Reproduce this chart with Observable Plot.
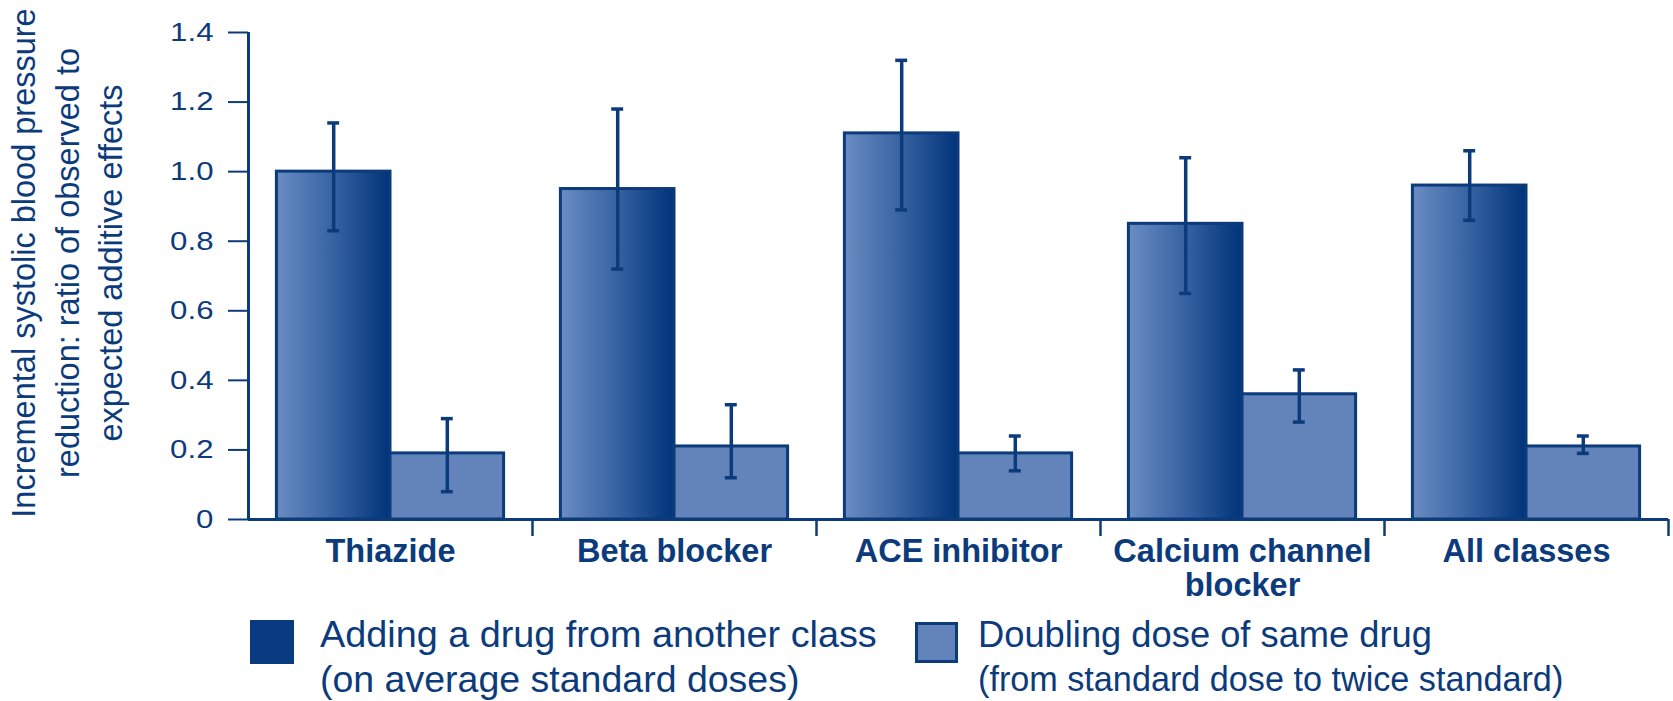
<!DOCTYPE html>
<html>
<head>
<meta charset="utf-8">
<script src="https://cdn.jsdelivr.net/npm/d3@7"></script>
<script src="https://cdn.jsdelivr.net/npm/@observablehq/plot@0.6"></script>
<style>
  body { margin: 0; background: #fff; font-family: "Liberation Sans", Arial, sans-serif; }
  #chart { position: relative; width: 1673px; height: 701px; overflow: hidden; background: #fff; }
  #legend { position: absolute; left: 0; top: 610px; width: 1673px; height: 91px; color: #0c3b7c; }
  .swatch { position: absolute; box-sizing: border-box; }
  .entry { position: absolute; white-space: pre; line-height: 45px; }
  .entry span { display: block; }
</style>
</head>
<body>
<div id="chart"></div>
<script>
// Drug classes along the x axis
const categories = ["Thiazide", "Beta blocker", "ACE inhibitor", "Calcium channel\nblocker", "All classes"];

// Adding a drug from another class: ratio and 95% interval
const addMean = [1.00, 0.95, 1.11, 0.85, 0.96];
const addLow  = [0.83, 0.72, 0.89, 0.65, 0.86];
const addHigh = [1.14, 1.18, 1.32, 1.04, 1.06];

// Doubling dose of the same drug: ratio and 95% interval
const dblMean = [0.19, 0.21, 0.19, 0.36, 0.21];
const dblLow  = [0.08, 0.12, 0.14, 0.28, 0.19];
const dblHigh = [0.29, 0.33, 0.24, 0.43, 0.24];

const yTicks = [0, 0.2, 0.4, 0.6, 0.8, 1.0, 1.2, 1.4];
const yTitle = "Incremental systolic blood pressure\nreduction: ratio of observed to\nexpected additive effects";
const seriesLabels = [
  ["Adding a drug from another class", "(on average standard doses)"],
  ["Doubling dose of same drug", "(from standard dose to twice standard)"]
];

const navy = "#0c3b7c";
const lightFill = "#6384bb";

// One row per bar; slot 0 = adding, slot 1 = doubling within each class
const rows = [];
categories.forEach((c, i) => {
  rows.push({cat: c, i, slot: 0, mean: addMean[i], lo: addLow[i], hi: addHigh[i]});
  rows.push({cat: c, i, slot: 1, mean: dblMean[i], lo: dblLow[i], hi: dblHigh[i]});
});
const left = d => d.i + 0.1 + d.slot * 0.4;
const right = d => left(d) + 0.4;
const mid = d => left(d) + 0.2;
const capHalf = 0.021;

// Horizontal shading used on the "adding" bars
const gradientDefs = () => {
  const defs = d3.create("svg:defs");
  const g = defs.append("linearGradient").attr("id", "addGrad")
    .attr("x1", 0).attr("x2", 1).attr("y1", 0).attr("y2", 0);
  g.append("stop").attr("offset", "0%").attr("stop-color", "#6a8cc2");
  g.append("stop").attr("offset", "45%").attr("stop-color", "#3c67a5");
  g.append("stop").attr("offset", "100%").attr("stop-color", "#00337a");
  return defs.node();
};

const chart = Plot.plot({
  width: 1673,
  height: 610,
  marginTop: 32,
  marginBottom: 91,
  marginLeft: 248,
  marginRight: 5,
  style: {fontFamily: "'Liberation Sans', Arial, sans-serif", color: navy, background: "white", overflow: "visible"},
  x: {domain: [0, categories.length]},
  y: {domain: [0, 1.4]},
  marks: [
    gradientDefs,
    Plot.rectY(rows.filter(d => d.slot === 0), {
      x1: left, x2: right, y1: 0, y2: d => d.mean,
      fill: "url(#addGrad)", stroke: navy, strokeWidth: 3
    }),
    Plot.rectY(rows.filter(d => d.slot === 1), {
      x1: left, x2: right, y1: 0, y2: d => d.mean,
      fill: lightFill, stroke: navy, strokeWidth: 3
    }),
    // error bars
    Plot.ruleX(rows, {x: mid, y1: d => d.lo, y2: d => d.hi, stroke: navy, strokeWidth: 3.5}),
    Plot.ruleY(rows, {y: d => d.hi, x1: d => mid(d) - capHalf, x2: d => mid(d) + capHalf, stroke: navy, strokeWidth: 3.5}),
    Plot.ruleY(rows, {y: d => d.lo, x1: d => mid(d) - capHalf, x2: d => mid(d) + capHalf, stroke: navy, strokeWidth: 3.5}),
    // axes
    Plot.axisY(yTicks, {
      tickSize: 20, tickPadding: 15, strokeWidth: 2, fontSize: 26, fill: navy, stroke: navy,
      tickFormat: d => d === 0 ? "0" : d.toFixed(1), label: null
    }),
    Plot.ruleX([0], {y1: 0, y2: 1.4, stroke: navy, strokeWidth: 3}),
    Plot.ruleY([0], {stroke: navy, strokeWidth: 3}),
    Plot.axisX(d3.range(1, categories.length + 1), {
      tickSize: 17, strokeWidth: 2.5, stroke: navy, tickFormat: () => "", label: null
    }),
    Plot.text(categories, {
      x: (d, i) => i + 0.5, text: d => d, frameAnchor: "bottom", dy: 18,
      lineAnchor: "top", lineHeight: 1.05, fontWeight: "bold", fontSize: 32.5, fill: navy
    }),
    Plot.text([yTitle], {
      text: d => d, frameAnchor: "left", dx: -184, dy: -13, rotate: -90,
      textAnchor: "middle", lineAnchor: "middle", lineHeight: 1.35, fontSize: 32.5, fill: navy
    })
  ]
});

const root = document.getElementById("chart");
root.appendChild(chart);

// y tick numerals are set slightly wide
chart.querySelectorAll('[aria-label="y-axis tick label"] text').forEach(t => {
  t.setAttribute("font-size", 26);
  const w = t.getComputedTextLength();
  t.setAttribute("textLength", (w * 1.2).toFixed(1));
  t.setAttribute("lengthAdjust", "spacingAndGlyphs");
});

// Legend below the plot
const legend = document.createElement("div");
legend.id = "legend";
const swatches = [
  {left: 250, top: 10, w: 44, h: 44, bg: "#0a3a80", border: "none", textLeft: 320, textTop: 1.5, fonts: [37.8, 37.5]},
  {left: 915, top: 12, w: 43, h: 41, bg: lightFill, border: `3px solid ${navy}`, textLeft: 978, textTop: 2, fonts: [36.3, 34.2]}
];
swatches.forEach((s, k) => {
  const sw = document.createElement("div");
  sw.className = "swatch";
  Object.assign(sw.style, {left: s.left + "px", top: s.top + "px", width: s.w + "px", height: s.h + "px", background: s.bg, border: s.border});
  legend.appendChild(sw);
  const tx = document.createElement("div");
  tx.className = "entry";
  Object.assign(tx.style, {left: s.textLeft + "px", top: s.textTop + "px"});
  seriesLabels[k].forEach((line, j) => {
    const sp = document.createElement("span");
    sp.style.fontSize = s.fonts[j] + "px";
    sp.textContent = line;
    tx.appendChild(sp);
  });
  legend.appendChild(tx);
});
root.appendChild(legend);
</script>
</body>
</html>
